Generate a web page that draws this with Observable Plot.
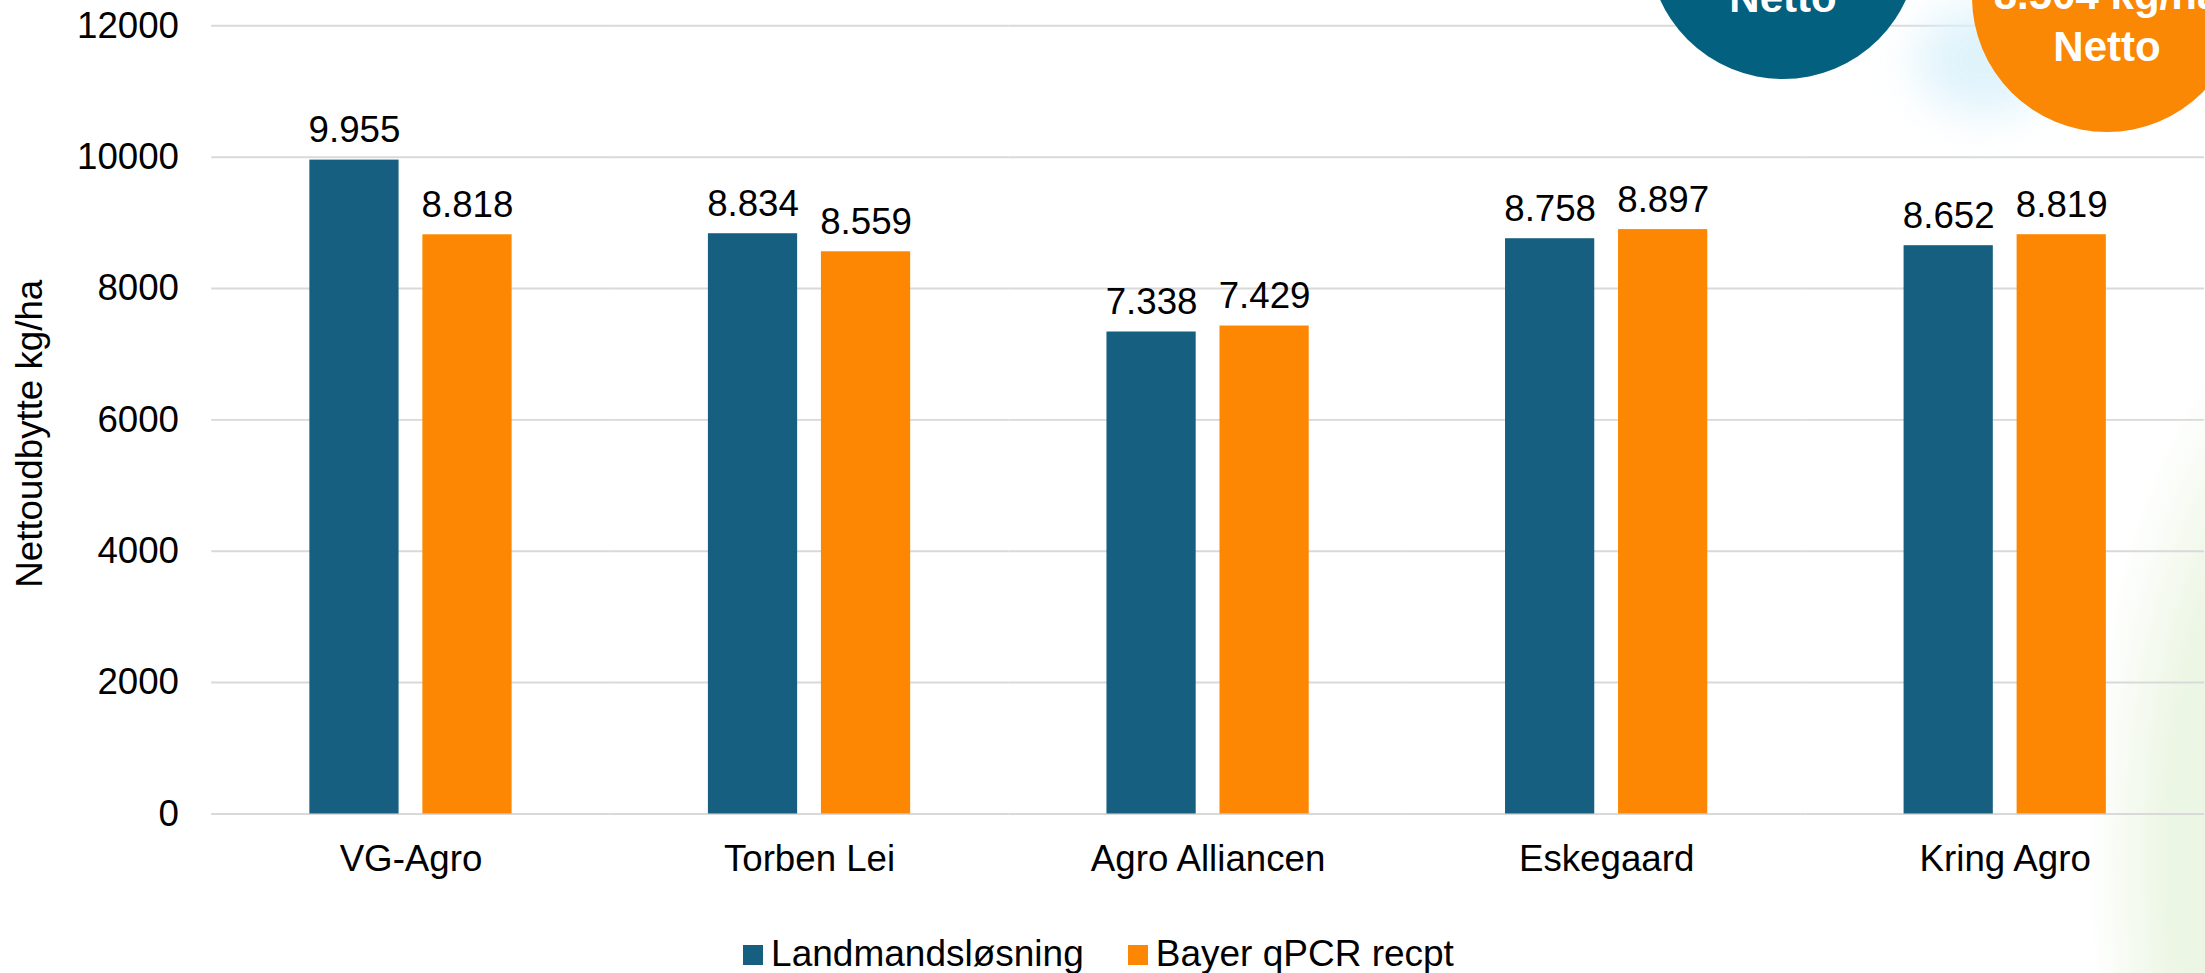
<!DOCTYPE html>
<html>
<head>
<meta charset="utf-8">
<script src="https://cdn.jsdelivr.net/npm/d3@7"></script>
<script src="https://cdn.jsdelivr.net/npm/@observablehq/plot@0.6"></script>
<style>
  html, body { margin: 0; padding: 0; background: #ffffff; overflow: hidden; width: 2205px; height: 973px; }
  #wrap { position: relative; width: 2205px; height: 973px; overflow: hidden; font-family: "Liberation Sans", Arial, sans-serif; }
  #bg-green { position: absolute; left: 2000px; top: 100px; width: 660px; height: 1500px;
    background: radial-gradient(ellipse closest-side at center, rgba(230,243,219,1) 0%, rgba(236,246,228,0.95) 50%, rgba(255,255,255,0) 74%); }
  #chart { position: absolute; left: 0; top: 0; }
  #glow { position: absolute; left: 1915px; top: 5px; width: 140px; height: 110px; border-radius: 50%;
    background: #dcf2fb; filter: blur(22px); opacity: 0.9; }
  .badge { position: absolute; width: 270px; height: 270px; border-radius: 50%; color: #ffffff;
    font-weight: bold; font-size: 42px; line-height: 52px; text-align: center; }
  .badge div { position: absolute; left: 0; width: 100%; white-space: nowrap; }
  #badge-blue { left: 1648px; top: -191px; background: #03607e; }
  #badge-orange { left: 1972px; top: -138px; background: #fb8804; }
  #legend { position: absolute; left: -4px; top: 935px; width: 2205px; display: flex; justify-content: center;
    gap: 44px; font-size: 37px; line-height: 37px; color: #000; }
  #legend .item { display: flex; align-items: center; white-space: nowrap; }
  #legend .sw { width: 20px; height: 20px; margin-right: 8px; margin-top: 2px; }
</style>
</head>
<body>
<div id="wrap">
  <div id="bg-green"></div>
  <div id="chart"></div>
  <div id="glow"></div>
  <div class="badge" id="badge-blue"></div>
  <div class="badge" id="badge-orange"></div>
  <div id="legend"></div>
</div>
<script>
// ---- data ----
const categories = ["VG-Agro", "Torben Lei", "Agro Alliancen", "Eskegaard", "Kring Agro"];
const series = ["Landmandsløsning", "Bayer qPCR recpt"];
const landmandValues = [9955, 8834, 7338, 8758, 8652];
const bayerValues = [8818, 8559, 7429, 8897, 8819];
const yTicks = [0, 2000, 4000, 6000, 8000, 10000, 12000];
const yLabel = "Nettoudbytte kg/ha";
const seriesColors = ["#175f80", "#fd8702"];
const blueBadgeLines = ["Netto"];
const orangeBadgeLines = ["8.504 kg/ha", "Netto"];

const rows = categories.flatMap((c, i) => [
  {category: c, series: series[0], value: landmandValues[i]},
  {category: c, series: series[1], value: bayerValues[i]}
]);

const locale = d3.formatLocale({decimal: ",", thousands: ".", grouping: [3], currency: ["", " kr"]});
const fmt = locale.format(",d");

const chart = Plot.plot({
  width: 2224,
  height: 920,
  marginLeft: 212,
  marginRight: 0,
  marginTop: 25.5,
  marginBottom: 99.5,
  style: {fontFamily: "Liberation Sans, Arial, sans-serif", fontSize: "37px", color: "#000", background: "transparent", overflow: "visible"},
  fx: {domain: categories, padding: 0, label: null, tickSize: 0, tickPadding: 31, axis: "bottom"},
  x: {domain: series, axis: null, paddingInner: 0.2105, paddingOuter: 0.868},
  y: {domain: [0, 12000], ticks: yTicks, tickSize: 0, tickPadding: 33, tickFormat: d => String(d), label: null},
  color: {domain: series, range: seriesColors},
  marks: [
    Plot.ruleY(yTicks, {stroke: "#d9d9d9", strokeWidth: 2}),
    Plot.barY(rows, {fx: "category", x: "series", y: "value", fill: "series"}),
    Plot.text(rows, {fx: "category", x: "series", y: "value", text: d => fmt(d.value), lineAnchor: "bottom", dy: -18, fill: "#000", fontSize: 37}),
    Plot.text([yLabel], {fx: () => categories[0], frameAnchor: "left", textAnchor: "middle", text: d => d, rotate: -90, dx: -183, dy: 14, fill: "#000", fontSize: 37})
  ]
});
document.getElementById("chart").appendChild(chart);

// badges (decorative callouts)
function fillBadge(el, lines, firstTop) {
  lines.forEach((t, i) => {
    const d = document.createElement("div");
    d.textContent = t;
    d.style.top = (firstTop + i * 52) + "px";
    el.appendChild(d);
  });
}
fillBadge(document.getElementById("badge-blue"), blueBadgeLines, 163.4);
fillBadge(document.getElementById("badge-orange"), orangeBadgeLines, 107.4);

// legend
const legend = document.getElementById("legend");
series.forEach((s, i) => {
  const item = document.createElement("div");
  item.className = "item";
  const sw = document.createElement("span");
  sw.className = "sw";
  sw.style.background = seriesColors[i];
  const lab = document.createElement("span");
  lab.textContent = s;
  item.appendChild(sw);
  item.appendChild(lab);
  legend.appendChild(item);
});
</script>
</body>
</html>
